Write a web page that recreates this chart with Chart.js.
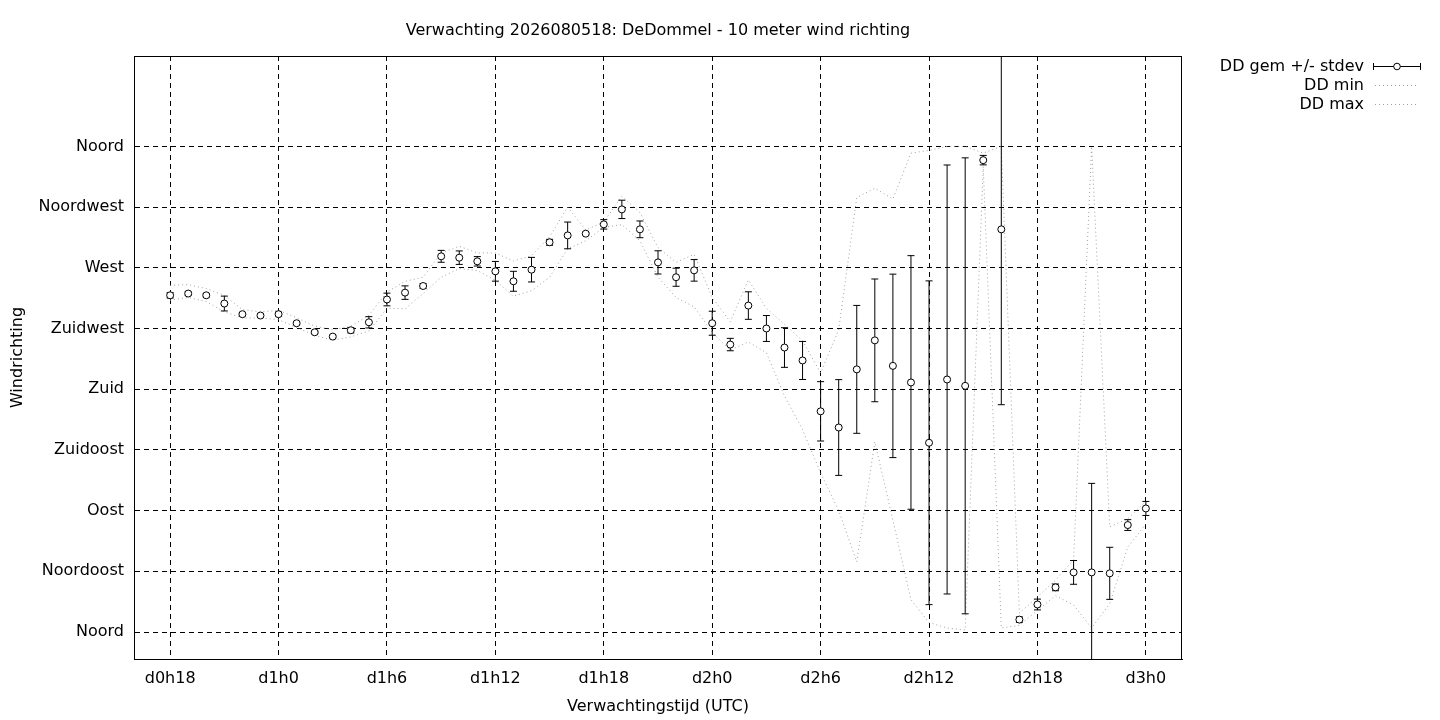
<!DOCTYPE html>
<html><head><meta charset="utf-8">
<script src="https://cdn.jsdelivr.net/npm/chart.js@4.4.1/dist/chart.umd.min.js"></script>
<style>
html,body{margin:0;padding:0;background:#fff;}
#wrap{position:relative;width:1440px;height:720px;overflow:hidden;}
canvas{position:absolute;left:0;top:0;}
.lgrow{position:absolute;font-family:'DejaVu Sans';font-size:16px;line-height:19px;color:#000;white-space:nowrap;text-align:right;}
.lgsvg{position:absolute;}
</style></head><body>
<div id="wrap"><canvas id="c" width="1440" height="720"></canvas><div id="legend"></div></div>
<script>
const hours = [18,19,20,21,22,23,24,25,26,27,28,29,30,31,32,33,34,35,36,37,38,39,40,41,42,43,44,45,46,47,48,49,50,51,52,53,54,55,56,57,58,59,60,61,62,63,64,65,66,67,68,69,70,71,72];
const meanDir = [249.6,250.9,249.6,243.5,235.6,234.6,235.6,228.9,222.2,219.0,223.7,229.6,246.5,251.6,256.5,278.5,277.5,274.8,267.4,260.0,268.6,288.9,294.0,295.3,302.2,313.3,298.5,274.0,263.0,268.1,228.9,213.1,242.0,225.0,210.9,201.3,163.6,151.6,194.7,216.2,197.3,185.0,140.3,187.2,182.5,349.8,298.5,9.2,20.4,33.1,44.2,44.2,43.5,79.3,91.6];
const stdevDir = [2.0,1.2,1.2,5.5,1.2,1.2,1.5,1.0,1.0,1.0,2.0,4.2,4.7,5.0,1.8,4.4,5.0,3.5,7.3,7.4,9.1,2.2,9.9,1.0,3.5,6.8,6.2,8.6,6.7,8.0,8.9,4.6,10.2,9.6,14.7,14.1,22.0,35.5,47.4,45.5,68.0,94.0,120.0,159.0,169.0,3.5,130.0,2.0,4.0,2.5,8.8,66.0,19.3,4.0,5.2];
const minDir = [246,248,245,237.3,232.8,232.8,231.6,225.7,220,216.3,218.8,223.2,240,239.6,250.9,263,269.4,268,260.7,248.9,253,263,284,290,300,302,290,263,248,241,222,209,215,207,175,150,118,90,52,141,83,24,7,3,1.5,345,3,5,16,27,20,3,21,63,80];
const maxDir = [257,257.5,254.6,249.5,239,237.3,238.5,233,226.7,224,226.7,234.8,252,260,263,281,286,281,281,275,279,293,315,298,304,323,311,285,274,280,248,230,261,240,228,216,192,224,322,329,321,355,357,360,360,355,360,14,26,38.5,53.5,360,78,84,97];
const xTickValues = [18,24,30,36,42,48,54,60,66,72];
const xTickLabels = ['d0h18','d1h0','d1h6','d1h12','d1h18','d2h0','d2h6','d2h12','d2h18','d3h0'];
const yTickValues = [0,45,90,135,180,225,270,315,360];
const yTickLabels = ['Noord','Noordoost','Oost','Zuidoost','Zuid','Zuidwest','West','Noordwest','Noord'];
const seriesNames = ['DD gem +/- stdev','DD min','DD max'];
const titleText = 'Verwachting 2026080518: DeDommel - 10 meter wind richting';
const xTitle = 'Verwachtingstijd (UTC)';
const yTitle = 'Windrichting';

const FONT = {family:'DejaVu Sans', size:16, weight:'normal', lineHeight:1.2};
Chart.defaults.font.family = 'DejaVu Sans';
Chart.defaults.color = '#000';

const meanPts = hours.map((h,i)=>({x:h,y:meanDir[i]}));
const errPts = [];
hours.forEach((h,i)=>{
  errPts.push({x:h,y:meanDir[i]-stdevDir[i]});
  errPts.push({x:h,y:meanDir[i]+stdevDir[i]});
  errPts.push({x:h,y:null});
});
const minPts = hours.map((h,i)=>({x:h,y:minDir[i]}));
const maxPts = hours.map((h,i)=>({x:h,y:maxDir[i]}));

const framePlugin = {
  id:'frame',
  afterDatasetsDraw(chart){
    const {ctx, chartArea:a} = chart;
    ctx.save();
    ctx.strokeStyle = '#000'; ctx.lineWidth = 1; ctx.setLineDash([]);
    ctx.strokeRect(Math.round(a.left)+0.5, Math.round(a.top)+0.5, Math.round(a.right-a.left)-1, Math.round(a.bottom-a.top));
    ctx.restore();
  }
};

new Chart(document.getElementById('c'), {
  type:'line',
  data:{datasets:[
    {label:seriesNames[0], data:meanPts, showLine:false, pointStyle:'circle', pointRadius:3.5, pointBorderWidth:1, borderColor:'#000', pointBackgroundColor:'#fff', backgroundColor:'#fff', order:0, clip:0},
    {label:seriesNames[0]+' bars', data:errPts, borderColor:'#000', borderWidth:1, pointStyle:'line', pointRadius:3.5, pointBorderWidth:1, spanGaps:false, order:1, clip:0},
    {label:seriesNames[1], data:minPts, borderColor:'#a0a0a0', borderWidth:1, borderDash:[1,3], pointRadius:0, tension:0, order:2, clip:0},
    {label:seriesNames[2], data:maxPts, borderColor:'#a0a0a0', borderWidth:1, borderDash:[1,3], pointRadius:0, tension:0, order:3, clip:0}
  ]},
  options:{
    responsive:false, animation:false, devicePixelRatio:1,
    layout:{padding:{left:0,right:258,top:0,bottom:0}},
    plugins:{
      legend:{display:false}, tooltip:{enabled:false},
      title:{display:true, text:titleText, fullSize:false, color:'#000', font:FONT, padding:{top:21, bottom:15.8}}
    },
    scales:{
      x:{type:'linear', min:16, max:74,
        afterBuildTicks:s=>{s.ticks = xTickValues.map(v=>({value:v}));},
        afterFit:s=>{s.height = 61;},
        ticks:{autoSkip:false, maxRotation:0, padding:10, color:'#000', font:FONT,
          callback:(v)=>xTickLabels[xTickValues.indexOf(v)]},
        grid:{color:'#000', lineWidth:1, drawTicks:false},
        border:{display:true, color:'#000', width:1, dash:[5,4]},
        title:{display:true, text:xTitle, color:'#000', font:FONT, padding:{top:0,bottom:3.4}}
      },
      y:{type:'linear', min:-20, max:427,
        afterBuildTicks:s=>{s.ticks = yTickValues.map(v=>({value:v}));},
        afterFit:s=>{s.width = 134;},
        ticks:{autoSkip:false, padding:10, color:'#000', font:FONT,
          callback:(v,i)=>yTickLabels[i]},
        grid:{color:'#000', lineWidth:1, drawTicks:false},
        border:{display:true, color:'#000', width:1, dash:[5,4]},
        title:{display:true, text:yTitle, color:'#000', font:FONT, padding:{top:8.4,bottom:0}}
      }
    }
  },
  plugins:[framePlugin]
});

// legend (HTML, real text)
const lg = document.getElementById('legend');
const rowY = [65.5, 84.5, 103.5];
seriesNames.forEach((name,i)=>{
  const d = document.createElement('div');
  d.className = 'lgrow';
  d.style.right = (1440-1364)+'px';
  d.style.top = (rowY[i]-9.5)+'px';
  d.textContent = name;
  lg.appendChild(d);
  const ns = 'http://www.w3.org/2000/svg';
  const svg = document.createElementNS(ns,'svg');
  svg.setAttribute('class','lgsvg');
  svg.setAttribute('width','52'); svg.setAttribute('height','12');
  svg.style.left = '1371px'; svg.style.top = (rowY[i]-6)+'px';
  if(i===0){
    svg.innerHTML = '<line x1="2.5" y1="6.5" x2="49.5" y2="6.5" stroke="#000" stroke-width="1"/>'+
      '<line x1="2.5" y1="3" x2="2.5" y2="10" stroke="#000" stroke-width="1"/>'+
      '<line x1="49.5" y1="3" x2="49.5" y2="10" stroke="#000" stroke-width="1"/>'+
      '<circle cx="26" cy="6.5" r="3.3" fill="#fff" stroke="#000" stroke-width="1"/>';
  } else {
    svg.innerHTML = '<line x1="4" y1="6.5" x2="48" y2="6.5" stroke="#a0a0a0" stroke-width="1" stroke-dasharray="1,3"/>';
  }
  lg.appendChild(svg);
});
</script>
</body></html>
